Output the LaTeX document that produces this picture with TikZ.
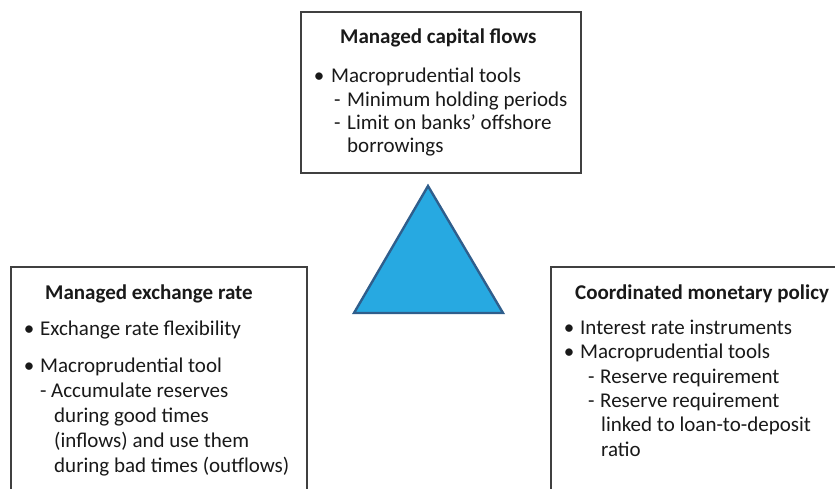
\documentclass[tikz,border=0pt]{standalone}
\usepackage{fontspec}
\setmainfont{Carlito}
\definecolor{boxline}{HTML}{404040}
\definecolor{trifill}{HTML}{27A9E1}
\definecolor{triline}{HTML}{2F5E8C}
\begin{document}
\begin{tikzpicture}[x=1pt,y=-1pt,
  panel/.style={draw=boxline,line width=1.3pt},
  apex/.style={draw=triline,fill=trifill,line width=2.4pt,line join=miter},
  txt/.style={anchor=base west,inner sep=0pt,font=\fontsize{21}{25}\selectfont,text=black!90},
  head/.style={txt,font=\fontsize{21}{25}\selectfont\bfseries},
  dot/.style={anchor=base,inner sep=0pt,font=\fontsize{21}{25}\selectfont,text=black!90},
]
\useasboundingbox (0,0) rectangle (835,488);
\clip (0,0) rectangle (835,488);

% the three policy panels (the lower two run past the picture's edge)
\draw[panel] (301,12) rectangle (581,173);
\draw[panel] (11,267) rectangle (307,520);
\draw[panel] (551,267) rectangle (860,520);

% central triangle
\coordinate (tA) at (428,186);
\coordinate (tB) at (503,313);
\coordinate (tC) at (354,313);
\draw[apex] (tA) -- (tB) -- (tC) -- cycle;

% top panel: capital flows
\node[head] (capT) at (340,43) {Managed capital flows};
\node[dot]  (capB1) at (319,82) {\textbullet};
\node[txt]  (capL1) at (331,82) {Macroprudential tools};
\node[txt]  (capD1) at (334,106) {-};
\node[txt]  (capL2) at (347,106) {Minimum holding periods};
\node[txt]  (capD2) at (334,129) {-};
\node[txt]  (capL3) at (347,129) {Limit on banks’ offshore};
\node[txt]  (capL4) at (347,152) {borrowings};

% left panel: exchange rate
\node[head] (exT) at (45,299) {Managed exchange rate};
\node[dot]  (exB1) at (29,335) {\textbullet};
\node[txt]  (exL1) at (40,335) {Exchange rate flexibility};
\node[dot]  (exB2) at (29,372) {\textbullet};
\node[txt]  (exL2) at (40,372) {Macroprudential tool};
\node[txt]  (exD1) at (40,397) {-};
\node[txt]  (exL3) at (51,397) {Accumulate reserves};
\node[txt]  (exL4) at (54,422) {during good times};
\node[txt]  (exL5) at (54,447) {(inflows) and use them};
\node[txt]  (exL6) at (54,472) {during bad times (outflows)};

% right panel: monetary policy
\node[head] (moT) at (575,299) {Coordinated monetary policy};
\node[dot]  (moB1) at (569,334) {\textbullet};
\node[txt]  (moL1) at (580,334) {Interest rate instruments};
\node[dot]  (moB2) at (569,358) {\textbullet};
\node[txt]  (moL2) at (580,358) {Macroprudential tools};
\node[txt]  (moD1) at (588,383) {-};
\node[txt]  (moL3) at (600,383) {Reserve requirement};
\node[txt]  (moD2) at (588,407) {-};
\node[txt]  (moL4) at (600,407) {Reserve requirement};
\node[txt]  (moL5) at (601,431) {linked to loan-to-deposit};
\node[txt]  (moL6) at (601,456) {ratio};
\end{tikzpicture}
\end{document}
